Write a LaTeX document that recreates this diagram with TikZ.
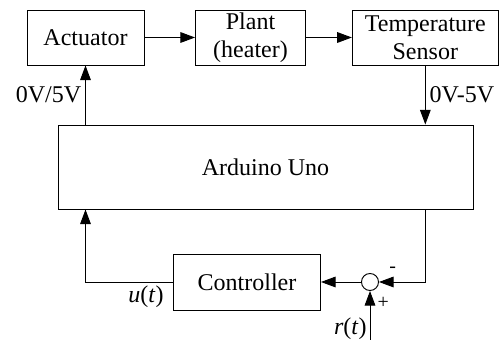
\documentclass[tikz,border=0pt]{standalone}
\usepackage{fontspec}
\setmainfont{Liberation Serif}
\usepackage{tikz}
\usetikzlibrary{arrows.meta,positioning,calc}
\newcommand{\blocksize}{\fontsize{20.5}{24}\selectfont}
\newcommand{\signsize}{\fontsize{17}{20}\selectfont}

\begin{document}
\begin{tikzpicture}[
      font=\blocksize,
      box/.style={draw,line width=0.8pt,minimum height=1.65cm,align=center,inner sep=0pt},
      arr/.style={-{Triangle[length=0.44cm,width=0.32cm]},line width=0.8pt},
      sumnode/.style={draw,circle,line width=0.8pt,minimum size=0.51cm,inner sep=0pt}
    ]
    \useasboundingbox (0,0) rectangle (15,10.2);
    \node[box,minimum width=3.51cm] (actuator) at (2.565,9.075) {Actuator};
    \node[box,minimum width=3.3cm] (plant) at (7.515,9.075) {Plant\\(heater)};
    \node[box,minimum width=4.38cm] (sensor) at (12.76,9.075) {Temperature\\Sensor};
    \node[box,minimum width=12.45cm,minimum height=2.52cm] (arduino) at (7.965,5.19) {Arduino Uno};
    \node[box,minimum width=4.41cm,minimum height=1.68cm] (ctrl) at (7.41,1.74) {Controller};
    \node[sumnode] (sum) at (11.1,1.74) {};
    \coordinate (ref) at (11.1,0);
    \draw[arr] (actuator) -- (plant);
    \draw[arr] (plant) -- (sensor);
    \draw[arr] (arduino.north -| actuator.south) -- (actuator.south) node[midway,left] (vout) {0V/5V};
    \draw[arr] (sensor.south) -- (arduino.north -| sensor.south) node[midway,right] (vin) {0V-5V};
    \draw[arr] (arduino.south -| sensor.south) |- (sum.east);
    \draw[arr] (sum.west) -- (ctrl.east);
    \draw[arr] (ctrl.west) -| (arduino.south -| actuator.south);
    \draw[arr] (ref) -- (sum.south);
    \node (rin) at ($(ref)+(-0.59,0.33)$) {\textit{r}(\textit{t})};
    \node (uout) at ($(ctrl.west)+(-0.81,-0.45)$) {\textit{u}(\textit{t})};
    \node[font=\signsize] (minus) at ($(sum)+(0.68,0.38)$) {-};
    \node[font=\signsize] (plus) at ($(sum)+(0.4,-0.62)$) {+};
  \end{tikzpicture}
\end{document}
